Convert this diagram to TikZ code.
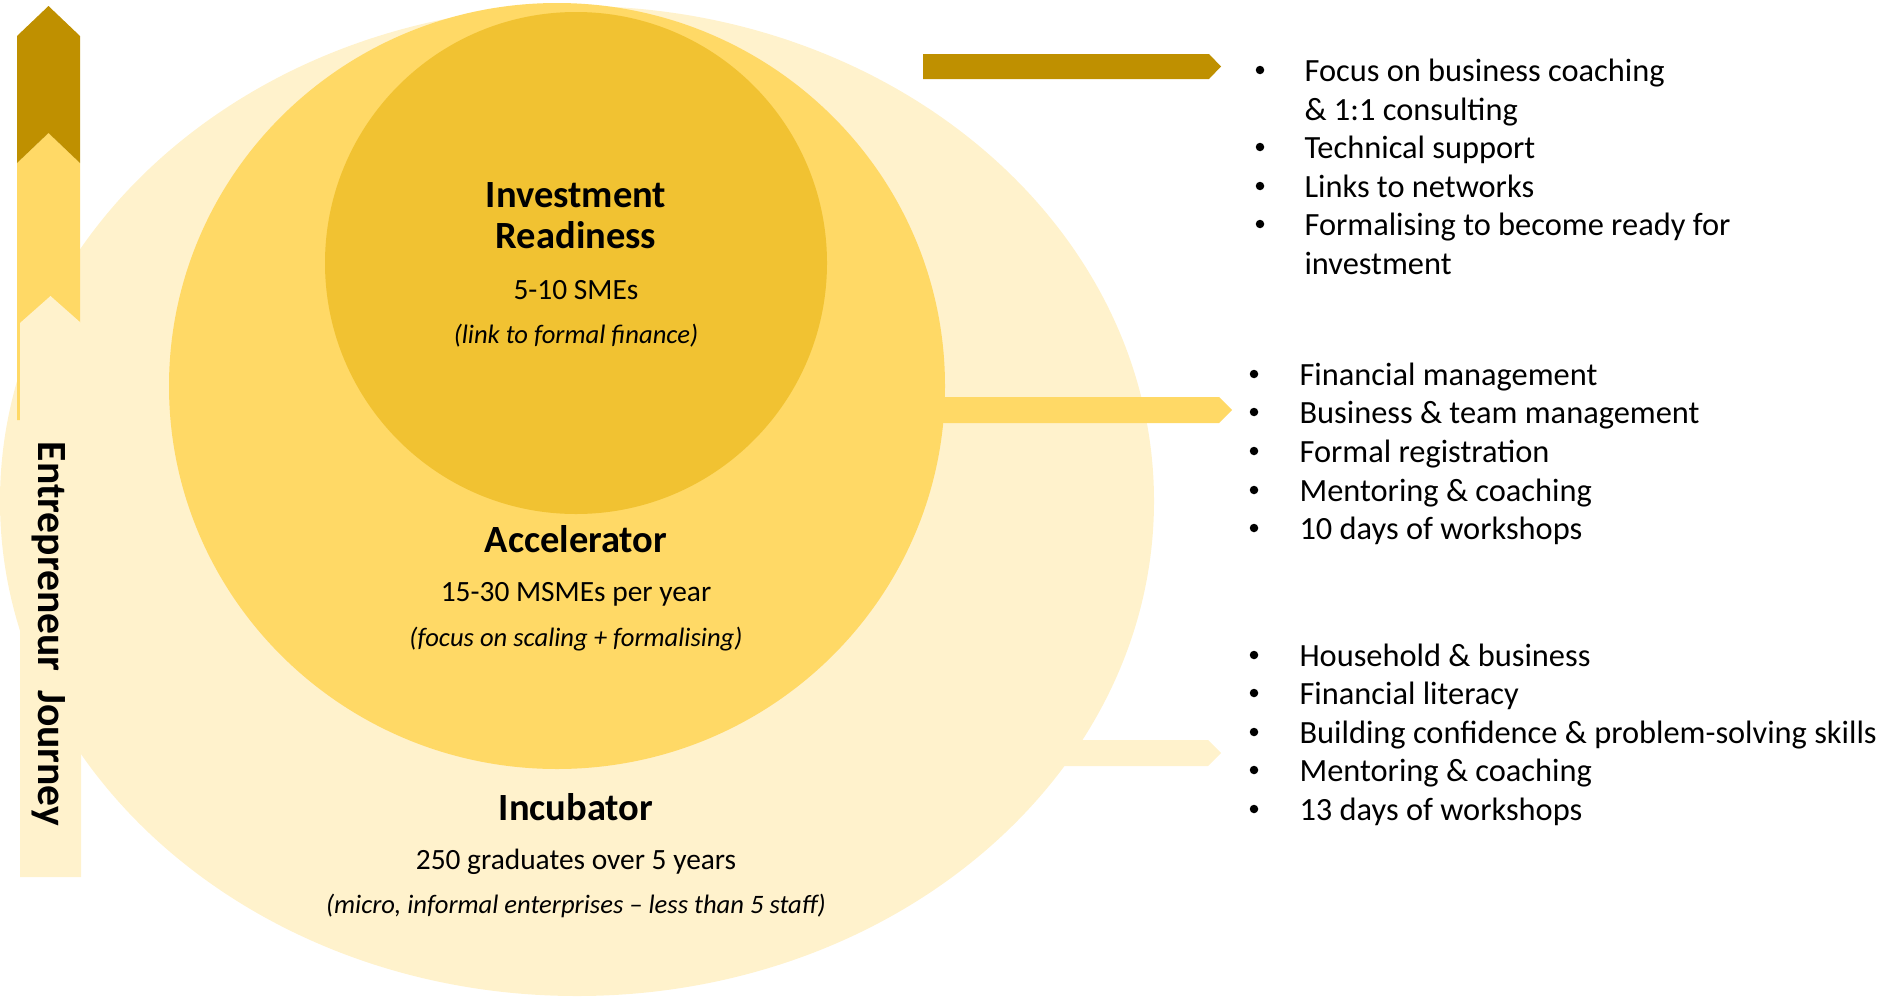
\documentclass[tikz,border=0pt]{standalone}
\usepackage{fontspec}
\setmainfont{Carlito}
\usetikzlibrary{shapes.geometric}

\definecolor{darkgold}{HTML}{BF9000}
\definecolor{midgold}{HTML}{FFD966}
\definecolor{lightgold}{HTML}{FFF2CC}
\definecolor{coregold}{HTML}{F1C232}

\begin{document}
\begin{tikzpicture}[x=1pt, y=-1pt,
  title/.style={font=\fontsize{38.5}{42}\selectfont\bfseries, anchor=base},
  figure/.style={font=\fontsize{29.4}{34}\selectfont, anchor=base},
  note/.style={font=\fontsize{26.6}{31}\selectfont\itshape, anchor=base},
  item/.style={font=\fontsize{32.4}{38}\selectfont, anchor=base west},
  dot/.style={circle, fill=black, inner sep=0, minimum size=8.5pt}]

\useasboundingbox (0,0) rectangle (1889,996);

% stages
\node[ellipse, fill=lightgold, inner sep=0, minimum width=1154pt, minimum height=990pt] (incubator) at (577,501) {};
\fill[midgold] (900,397) -- (1219,397) -- (1232,410) -- (1219,423) -- (900,423) -- cycle;
\fill[lightgold] (1050,740) -- (1208,740) -- (1221,753) -- (1208,766) -- (1050,766) -- cycle;
\node[ellipse, fill=midgold, inner sep=0, minimum width=776pt, minimum height=766pt] (accelerator) at (557,386) {};
\node[circle, fill=coregold, inner sep=0, minimum size=502pt] (investment) at (576,263) {};
\fill[darkgold] (923,54) -- (1209,54) -- (1221,66.5) -- (1209,79) -- (923,79) -- cycle;

% journey arrow
\fill[midgold] (17,163) -- (48.5,133) -- (80,163) -- (80,420) -- (17,420) -- cycle;
\fill[lightgold] (20,323) -- (50.5,296) -- (81,323) -- (81,877) -- (20,877) -- cycle;
\fill[darkgold] (17,36) -- (48.5,6) -- (80,36) -- (80,163) -- (48.5,133) -- (17,163) -- cycle;
\node[rotate=-90, font=\fontsize{41.6}{45}\selectfont\bfseries] (journey) at (49,634) {Entrepreneur\ \ Journey};

% labels
\node[title] (invtitle) at (576,207) {Investment};
\node[title] (invtitle2) at (576,248) {Readiness};
\node[figure] (invnum) at (576,299) {5-10 SMEs};
\node[note] (invnote) at (576,343) {(link to formal finance)};

\node[title] (acctitle) at (576,552) {Accelerator};
\node[figure] (accnum) at (576,601) {15-30 MSMEs per year};
\node[note] (accnote) at (576,646) {(focus on scaling + formalising)};

\node[title] (inctitle) at (576,820) {Incubator};
\node[figure] (incnum) at (576,869) {250 graduates over 5 years};
\node[note] (incnote) at (576,913) {(micro, informal enterprises -- less than 5 staff)};

% lists
\foreach \y/\txt [count=\i] in {
	81/Focus on business coaching,
	120/\& 1:1 consulting,
	158/Technical support,
	197/Links to networks,
	235/Formalising to become ready for,
	274/investment}
	\node[item] (inv\i) at (1301,\y) {\txt};
\foreach \y [count=\i] in {81,158,197,235}
	\node[dot] (invb\i) at (1260,\y-11) {};

\foreach \y/\txt [count=\i] in {
	385/Financial management,
	423/Business \& team management,
	462/Formal registration,
	501/Mentoring \& coaching,
	539/10 days of workshops}
	{
	\node[item] (acc\i) at (1296,\y) {\txt};
	\node[dot] (accb\i) at (1254,\y-11) {};
	}

\foreach \y/\txt [count=\i] in {
	666/Household \& business,
	704/Financial literacy,
	743/Building confidence \& problem-solving skills,
	781/Mentoring \& coaching,
	820/13 days of workshops}
	{
	\node[item] (inc\i) at (1296,\y) {\txt};
	\node[dot] (incb\i) at (1254,\y-11) {};
	}

\end{tikzpicture}
\end{document}
